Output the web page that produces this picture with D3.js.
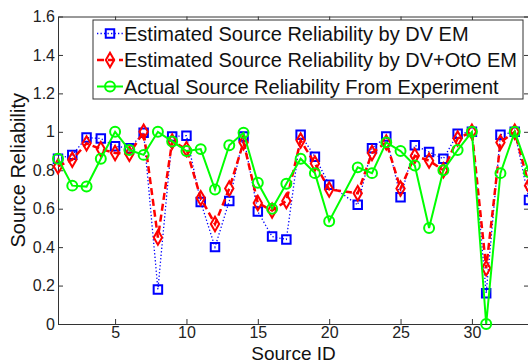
<!DOCTYPE html>
<html lang="en">
<head>
    <meta charset="UTF-8">
    <title>Source Reliability</title>
    <script src="https://d3js.org/d3.v7.min.js"></script>
    <style>
        body { margin: 0; background: #fff; }
        svg { display: block; font-family: "Liberation Sans", Arial, sans-serif; }
        .axis text { font-size: 16px; fill: #222; }
        .axis path, .axis line { stroke: #333; }
    </style>
</head>
<body>
    <svg width="528" height="364"></svg>
    <script>
        // source 21 has no point in the figure
        const sourceIds = [1, 2, 3, 4, 5, 6, 7, 8, 9, 10, 11, 12, 13, 14, 15, 16, 17, 18, 19, 20,
                           22, 23, 24, 25, 26, 27, 28, 29, 30, 31, 32, 33, 34];
        const dvEM = [0.86, 0.88, 0.97, 0.965, 0.925, 0.915, 0.995, 0.18, 0.975, 0.98,
                      0.635, 0.40, 0.64, 0.975, 0.585, 0.455, 0.44, 0.985, 0.87, 0.725,
                      0.62, 0.915, 0.975, 0.66, 0.93, 0.895, 0.86, 0.99, 1.0, 0.16, 0.985, 1.0, 0.645];
        const dvOtoEM = [0.82, 0.855, 0.94, 0.91, 0.89, 0.885, 1.0, 0.45, 0.95, 0.91,
                         0.655, 0.52, 0.705, 0.945, 0.63, 0.59, 0.64, 0.955, 0.835, 0.70,
                         0.68, 0.89, 0.945, 0.705, 0.875, 0.85, 0.80, 0.965, 1.0, 0.29, 0.945, 1.0, 0.72];
        const actual = [0.86, 0.72, 0.715, 0.86, 1.0, 0.905, 0.88, 1.0, 0.95, 0.90,
                        0.91, 0.70, 0.93, 0.995, 0.735, 0.60, 0.73, 0.86, 0.785, 0.535,
                        0.815, 0.785, 0.945, 0.90, 0.825, 0.50, 0.80, 0.905, 1.0, 0.0, 0.785, 1.0, 0.79];
        const seriesNames = ["Estimated Source Reliability by DV EM",
                             "Estimated Source Reliability by DV+OtO EM",
                             "Actual Source Reliability From Experiment"];
        const xTicks = [5, 10, 15, 20, 25, 30];
        const yTicks = [0, 0.2, 0.4, 0.6, 0.8, 1, 1.2, 1.4, 1.6];

        const svg = d3.select("svg");
        const margin = {top: 16.5, left: 58, right: -1, bottom: 40};
        const width = +svg.attr("width") - margin.left - margin.right;
        const height = +svg.attr("height") - margin.top - margin.bottom;
        const g = svg.append("g").attr("transform", `translate(${margin.left},${margin.top})`);

        const x = d3.scaleLinear().domain([1, 34]).range([0, width]);
        const y = d3.scaleLinear().domain([0, 1.6]).range([height, 0]);
        const fmt = d => String(+d.toFixed(1));

        // box with inward ticks on all four sides
        g.append("g").attr("class", "axis")
            .attr("transform", `translate(0,${height})`)
            .call(d3.axisBottom(x).tickValues(xTicks).tickSize(-5).tickPadding(4).tickSizeOuter(0))
            .selectAll("text").attr("dy", "0.65em");
        g.append("g").attr("class", "axis")
            .call(d3.axisTop(x).tickValues(xTicks).tickSize(-5).tickFormat("").tickSizeOuter(0));
        g.append("g").attr("class", "axis")
            .call(d3.axisLeft(y).tickValues(yTicks).tickSize(-5).tickPadding(3).tickFormat(fmt).tickSizeOuter(0));
        g.append("g").attr("class", "axis")
            .attr("transform", `translate(${width},0)`)
            .call(d3.axisRight(y).tickValues(yTicks).tickSize(-5).tickFormat("").tickSizeOuter(0));

        const series = [
            {name: seriesNames[0], values: dvEM, color: "#0000ff", width: 1.3, dash: "1.3,2.2", marker: "square"},
            {name: seriesNames[1], values: dvOtoEM, color: "#ff0000", width: 2.5, dash: "7,4", marker: "diamond"},
            {name: seriesNames[2], values: actual, color: "#00ff00", width: 2, dash: null, marker: "circle"}
        ];

        const markerPath = {
            square: d3.symbol().type(d3.symbolSquare).size(72),
            diamond: d3.symbol().type(d3.symbolDiamond).size(60),
            circle: d3.symbol().type(d3.symbolCircle).size(78)
        };

        const line = d3.line().x(d => x(d.id)).y(d => y(d.v));

        series.forEach(s => {
            const pts = sourceIds.map((id, i) => ({id, v: s.values[i]}));
            g.append("path")
                .datum(pts)
                .attr("d", line)
                .attr("fill", "none")
                .attr("stroke", s.color)
                .attr("stroke-width", s.width)
                .attr("stroke-dasharray", s.dash);
            g.selectAll(null)
                .data(pts)
                .join("path")
                .attr("transform", d => `translate(${x(d.id)},${y(d.v)})`)
                .attr("d", markerPath[s.marker]())
                .attr("fill", "none")
                .attr("stroke", s.color)
                .attr("stroke-width", 2);
        });

        // legend
        const legend = svg.append("g").attr("transform", "translate(93,20)");
        legend.append("rect")
            .attr("width", 430).attr("height", 79)
            .attr("fill", "#fff").attr("stroke", "#333").attr("stroke-width", 1);
        series.forEach((s, i) => {
            const row = legend.append("g").attr("transform", `translate(0,${13.5 + i * 26.5})`);
            row.append("line")
                .attr("x1", 4).attr("x2", 30)
                .attr("stroke", s.color).attr("stroke-width", s.width)
                .attr("stroke-dasharray", s.dash);
            row.append("path")
                .attr("transform", "translate(17,0)")
                .attr("d", markerPath[s.marker]())
                .attr("fill", "none").attr("stroke", s.color).attr("stroke-width", 2);
            row.append("text")
                .attr("x", 31).attr("dy", "0.36em")
                .style("font-size", "20px").attr("fill", "#111")
                .text(s.name);
        });

        // axis titles
        svg.append("text")
            .attr("x", margin.left + width / 2).attr("y", 359.5)
            .attr("text-anchor", "middle").style("font-size", "19px").attr("fill", "#111")
            .text("Source ID");
        svg.append("text")
            .attr("transform", `translate(25,${margin.top + height / 2}) rotate(-90)`)
            .attr("text-anchor", "middle").style("font-size", "20px").attr("fill", "#111")
            .text("Source Reliability");
    </script>
</body>
</html>
